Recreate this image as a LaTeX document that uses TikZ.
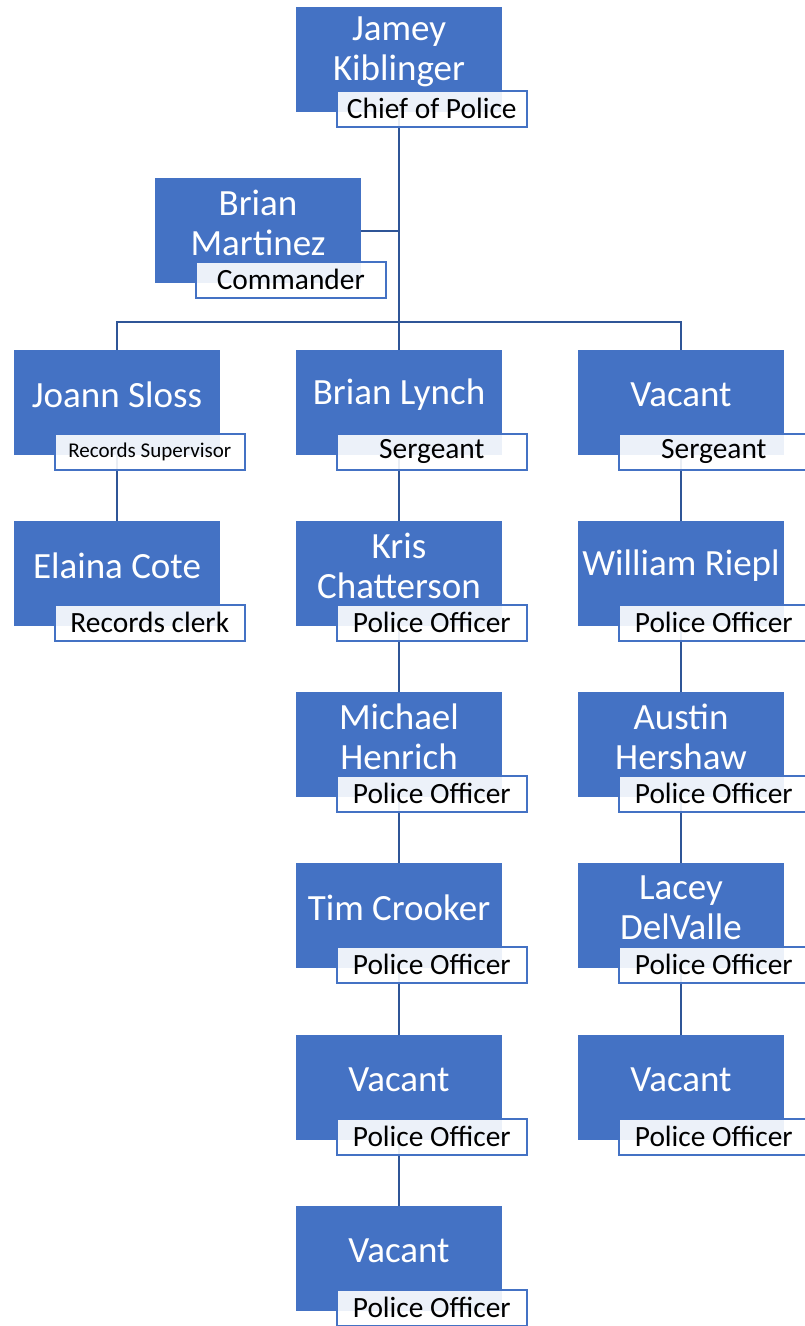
\documentclass[tikz,border=0pt]{standalone}
\usepackage{fontspec}
\setmainfont{Carlito}
\usetikzlibrary{backgrounds}
\definecolor{boxblue}{RGB}{68,114,196}
\definecolor{lineblue}{RGB}{47,85,151}
\tikzset{
  personbox/.style={fill=boxblue,anchor=north west,minimum width=206pt,minimum height=105pt,inner sep=0pt},
  nametext/.style={text=white,align=center,font=\fontsize{37}{40}\selectfont,inner sep=0pt},
  titlebox/.style={draw=boxblue,line width=1.6pt,fill=white,fill opacity=0.9,text opacity=1,anchor=north west,
    minimum width=190pt,minimum height=36pt,inner sep=0pt,font=\fontsize{29.4}{30}\selectfont},
  conn/.style={draw=lineblue,line width=2.2pt}
}
% one person: id, x, y, name, title
\newcommand{\staff}[5]{%
  \node[personbox] (#1) at (#2,#3) {};
  \node[nametext] (#1n) at (#2+103,#3+45) {#4};
  \node[titlebox] (#1t) at (#2+40,#3+83) {#5};
}
\begin{document}
\begin{tikzpicture}[x=1pt,y=-1pt]
  \useasboundingbox (0,0) rectangle (804,1326);
  % top
  \staff{jk}{296}{7}{Jamey\\Kiblinger}{Chief of Police}
  \staff{bm}{155}{178}{Brian\\Martinez}{Commander}
  % second row
  \staff{js}{14}{350}{Joann Sloss}{\fontsize{21}{24}\selectfont Records Supervisor}
  \staff{bl}{296}{350}{Brian Lynch}{Sergeant}
  \staff{vr}{578}{350}{Vacant}{Sergeant}
  % left column
  \staff{ec}{14}{521}{Elaina Cote}{Records clerk}
  % middle column
  \staff{kc}{296}{521}{Kris\\Chatterson}{Police Officer}
  \staff{mh}{296}{692}{Michael\\Henrich}{Police Officer}
  \staff{tc}{296}{863}{Tim Crooker}{Police Officer}
  \staff{va}{296}{1035}{Vacant}{Police Officer}
  \staff{vb}{296}{1206}{Vacant}{Police Officer}
  % right column
  \staff{wr}{578}{521}{William Riepl}{Police Officer}
  \staff{ah}{578}{692}{Austin\\Hershaw}{Police Officer}
  \staff{ld}{578}{863}{Lacey\\DelValle}{Police Officer}
  \staff{vc}{578}{1035}{Vacant}{Police Officer}
  \coordinate (bus) at (400,322);
  \begin{pgfonlayer}{background}
    \draw[conn] (jk.south) -- (bl.north);
    \draw[conn] (bm.east) -- (bm.east -| jk.south);
    \draw[conn] (js.north) |- (bus) -| (vr.north);
    \foreach \a/\b in {js/ec,bl/kc,kc/mh,mh/tc,tc/va,va/vb,vr/wr,wr/ah,ah/ld,ld/vc}
      \draw[conn] (\a.south) -- (\b.north);
  \end{pgfonlayer}
\end{tikzpicture}
\end{document}
